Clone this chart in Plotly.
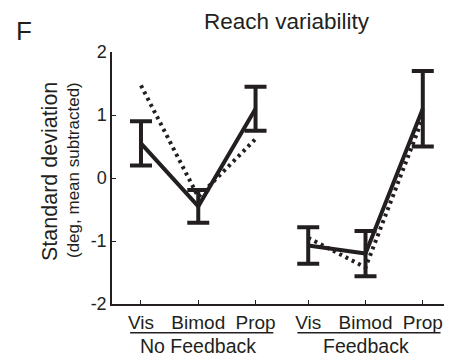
import plotly.graph_objects as go

# ---- data ----
conditions = ["Vis", "Bimod", "Prop"]
groups = ["No Feedback", "Feedback"]
observed_nf = [0.55, -0.45, 1.10]
sem_nf = [0.35, 0.26, 0.35]
predicted_nf = [1.47, -0.30, 0.62]
observed_fb = [-1.07, -1.20, 1.10]
sem_fb = [0.29, 0.36, 0.60]
predicted_fb = [-0.95, -1.42, 0.95]
y_ticks = [-2, -1, 0, 1, 2]

INK = "#231f20"
FONT = "Liberation Sans, Arial, Helvetica, sans-serif"

group_start = [1.0, 3.92]
observed = [observed_nf, observed_fb]
sems = [sem_nf, sem_fb]
predicted = [predicted_nf, predicted_fb]

fig = go.Figure()
all_pos, all_text = [], []
for g in range(2):
    pos = [group_start[g] + i for i in range(len(conditions))]
    all_pos += pos
    all_text += conditions
    fig.add_trace(go.Scatter(
        x=pos, y=predicted[g], mode="lines",
        line=dict(color=INK, width=4, dash="3px,4px"),
        showlegend=False, hoverinfo="skip"))
    fig.add_trace(go.Scatter(
        x=pos, y=observed[g], mode="lines",
        line=dict(color=INK, width=4),
        error_y=dict(type="data", array=sems[g], visible=True,
                     color=INK, thickness=4, width=11),
        showlegend=False))

x0, x1 = 0.494, 6.43
fig.update_xaxes(range=[x0, x1], tickvals=all_pos, ticktext=all_text,
                 showline=True, linecolor=INK, linewidth=1.5,
                 ticks="inside", ticklen=4, tickwidth=1.2, tickcolor=INK,
                 showgrid=False, zeroline=False,
                 tickfont=dict(family=FONT, size=19, color=INK))
fig.update_yaxes(range=[-2, 2], tickvals=y_ticks,
                 ticktext=[str(v) for v in y_ticks],
                 showline=True, linecolor=INK, linewidth=1.5,
                 ticks="inside", ticklen=4, tickwidth=1.2, tickcolor=INK,
                 showgrid=False, zeroline=False,
                 tickfont=dict(family=FONT, size=18, color=INK))

# plot area in page pixels: x 112..452, y 52..304
def px(xp):
    return (xp - 112) / 340

def py(yp):
    return (304 - yp) / 252

annotations = []
shapes = []
for g in range(2):
    center = group_start[g] + 1
    annotations.append(dict(text=groups[g], x=center, xref="x", y=py(346),
                            yref="paper", yanchor="middle", xanchor="center",
                            showarrow=False,
                            font=dict(family=FONT, size=19.5, color=INK)))
    shapes.append(dict(type="line", xref="x", yref="paper",
                       x0=group_start[g] - 0.19, x1=group_start[g] + 2.31,
                       y0=py(332.7), y1=py(332.7),
                       line=dict(color=INK, width=1.5)))

annotations += [
    dict(text="Reach variability", x=px(287), y=py(21),
         xref="paper", yref="paper", xanchor="center", yanchor="middle",
         showarrow=False, font=dict(family=FONT, size=22.5, color=INK)),
    dict(text="F", x=px(23.5), y=py(31),
         xref="paper", yref="paper", xanchor="center", yanchor="middle",
         showarrow=False, font=dict(family=FONT, size=26, color=INK)),
    dict(text="Standard deviation", x=px(50), y=py(172),
         xref="paper", yref="paper", xanchor="center", yanchor="middle",
         textangle=-90, showarrow=False,
         font=dict(family=FONT, size=21.5, color=INK)),
    dict(text="(deg, mean subtracted)", x=px(73), y=py(170),
         xref="paper", yref="paper", xanchor="center", yanchor="middle",
         textangle=-90, showarrow=False,
         font=dict(family=FONT, size=17, color=INK)),
]

# the page body has an 8px margin, so the figure is offset by 8px
fig.update_layout(
    width=444, height=348,
    margin=dict(l=104, r=0, t=44, b=52),
    paper_bgcolor="white", plot_bgcolor="white",
    annotations=annotations, shapes=shapes,
    font=dict(family=FONT, color=INK),
)

fig.write_html("out.html")
